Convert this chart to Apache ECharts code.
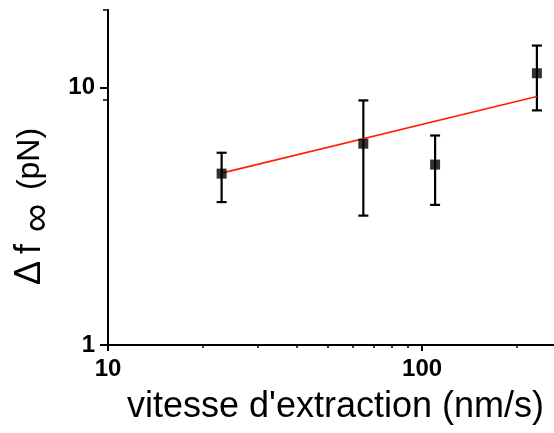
<!DOCTYPE html>
<html>
<head>
<meta charset="utf-8">
<script src="https://cdn.jsdelivr.net/npm/echarts@6/dist/echarts.min.js"></script>
<style>html,body{margin:0;padding:0;background:#fff;}#c{width:554px;height:433px;}</style>
</head>
<body>
<div id="c"></div>
<script>
// Data
const speeds = [23, 65, 110, 232];          // nm/s
const forces = [4.63, 6.05, 5.02, 11.36];   // pN
const errLow = [3.59, 3.18, 3.50, 8.15];
const errHigh = [5.58, 8.91, 6.51, 14.55];
const fitX = [23, 232];
const fitY = [4.65, 9.23];
const xMajorTicks = [10, 100];
const xMinorTicks = [20, 30, 40, 50, 60, 70, 80, 90, 200];
const yMajorTicks = [1, 10];
const yMinorTicks = [9, 20];
const xTitle = 'vitesse d\'extraction (nm/s)';
const yTitleDelta = 'Δ';
const yTitleF = 'f';
const yTitleSub = '∞';
const yTitleUnit = '(pN)';

const font = '"Liberation Sans", Arial, sans-serif';
const chart = echarts.init(document.getElementById('c'));

const pts = speeds.map((x, i) => [x, forces[i]]);
const errs = speeds.map((x, i) => [x, errLow[i], errHigh[i]]);
const fit = fitX.map((x, i) => [x, fitY[i]]);

const xBase = {
  type: 'log', logBase: 10, min: 10, max: 263, gridIndex: 0, position: 'bottom',
  axisLine: {show: true, lineStyle: {color: '#000', width: 2}},
  splitLine: {show: false}
};
const yBase = {
  type: 'log', logBase: 10, min: 1, max: 20, gridIndex: 0, position: 'left',
  axisLine: {show: true, lineStyle: {color: '#000', width: 2}},
  splitLine: {show: false}
};

function vtext(str, size, x, y) {
  return {
    type: 'text', x: x, y: y, rotation: Math.PI / 2, silent: true,
    style: {text: str, font: size + 'px ' + font, fill: '#000', align: 'center', verticalAlign: 'middle'}
  };
}

chart.setOption({
  animation: false,
  grid: {left: 108, right: 0, top: 10, bottom: 88, containLabel: false, outerBoundsMode: 'none'},
  graphic: [
    {
      type: 'text', left: 127, top: 389, silent: true,
      style: {text: xTitle, font: '36px ' + font, fill: '#000'}
    },
    vtext(yTitleDelta, 36, 30, 273),
    vtext(yTitleF, 36, 30, 249),
    vtext(yTitleSub, 40, 38, 218),
    vtext(yTitleUnit, 32, 30, 159)
  ],
  xAxis: [
    Object.assign({}, xBase, {
      axisTick: {show: true, length: 6, lineStyle: {color: '#000', width: 2}, customValues: xMajorTicks},
      axisLabel: {show: true, customValues: xMajorTicks, fontFamily: font, fontWeight: 'bold', fontSize: 24, color: '#000', margin: 12,
        formatter: v => String(Math.round(v))}
    }),
    Object.assign({}, xBase, {
      axisTick: {show: true, length: 3, lineStyle: {color: '#000', width: 1.5}, customValues: xMinorTicks},
      axisLabel: {show: false}
    })
  ],
  yAxis: [
    Object.assign({}, yBase, {
      axisTick: {show: true, length: 8, lineStyle: {color: '#000', width: 2}, customValues: yMajorTicks},
      axisLabel: {show: true, customValues: yMajorTicks, fontFamily: font, fontWeight: 'bold', fontSize: 24, color: '#000', margin: 13,
        formatter: v => String(Math.round(v))}
    }),
    Object.assign({}, yBase, {
      axisTick: {show: true, length: 5, lineStyle: {color: '#000', width: 1.5}, customValues: yMinorTicks},
      axisLabel: {show: false}
    })
  ],
  series: [
    {
      type: 'line', data: fit, xAxisIndex: 0, yAxisIndex: 0, symbol: 'none',
      lineStyle: {color: '#ff2200', width: 1.6}, z: 3
    },
    {
      type: 'custom', xAxisIndex: 0, yAxisIndex: 0, data: errs, z: 2,
      renderItem: function (params, api) {
        const x = api.value(0);
        const lo = api.coord([x, api.value(1)]);
        const hi = api.coord([x, api.value(2)]);
        const hw = 5;
        const st = {stroke: '#000', lineWidth: 2.2};
        return {
          type: 'group',
          children: [
            {type: 'line', shape: {x1: lo[0], y1: lo[1], x2: hi[0], y2: hi[1]}, style: st},
            {type: 'line', shape: {x1: lo[0] - hw, y1: lo[1], x2: lo[0] + hw, y2: lo[1]}, style: st},
            {type: 'line', shape: {x1: hi[0] - hw, y1: hi[1], x2: hi[0] + hw, y2: hi[1]}, style: st}
          ]
        };
      }
    },
    {
      type: 'scatter', data: pts, xAxisIndex: 0, yAxisIndex: 0, symbol: 'rect', symbolSize: 10,
      itemStyle: {color: '#000'}, z: 4
    }
  ]
});
</script>
</body>
</html>
